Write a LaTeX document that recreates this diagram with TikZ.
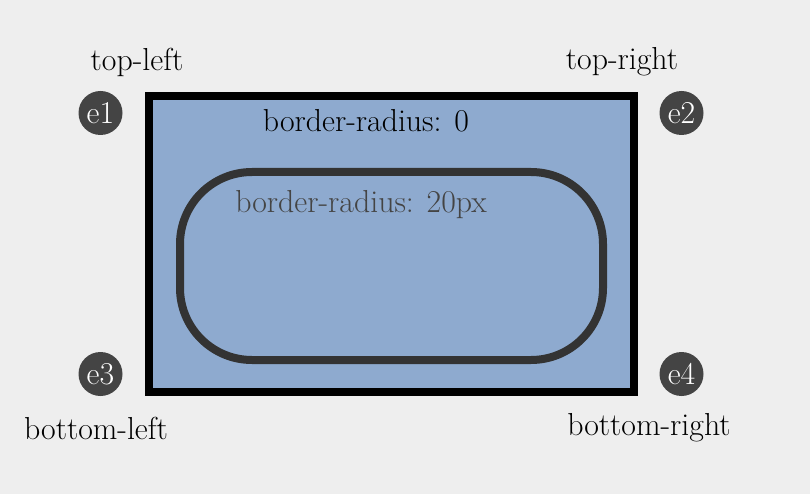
\documentclass[tikz,border=0pt]{standalone}
\usepackage{tikz}
\definecolor{bgcol}{HTML}{EEEEEE}
\definecolor{boxcol}{HTML}{8EAACF}
\definecolor{darkcol}{HTML}{333333}
\definecolor{dotcol}{HTML}{444444}
\begin{document}
\begin{tikzpicture}[x=1pt,y=-1pt]
\tikzstyle{every node}+=[inner sep=0pt, font=\fontsize{31.8}{38}\selectfont]
\tikzstyle{dot}=[circle, fill=dotcol, minimum size=44pt, text=white]
\fill [bgcol] (0,0) rectangle (810,494);
\useasboundingbox (0,0) rectangle (810,494);
\draw [black, line width=8pt, fill=boxcol] (149,96) rectangle (633.5,392);
\draw [darkcol, line width=8pt, rounded corners=72pt] (180,172) rectangle (603,360);
\node (outer) at (366,121) {border-radius: 0};
\node [text=dotcol] (inner) at (361,205) {border-radius: 20px};
\node [dot] (e1) at (100.5,113) {e1};
\node [dot] (e2) at (681.5,113) {e2};
\node [dot] (e3) at (100.5,374) {e3};
\node [dot] (e4) at (681.5,374) {e4};
\node (tl) at (137,62) {top-left};
\node (tr) at (622,62) {top-right};
\node (bl) at (96,428) {bottom-left};
\node (br) at (649,428) {bottom-right};
\end{tikzpicture}
\end{document}
